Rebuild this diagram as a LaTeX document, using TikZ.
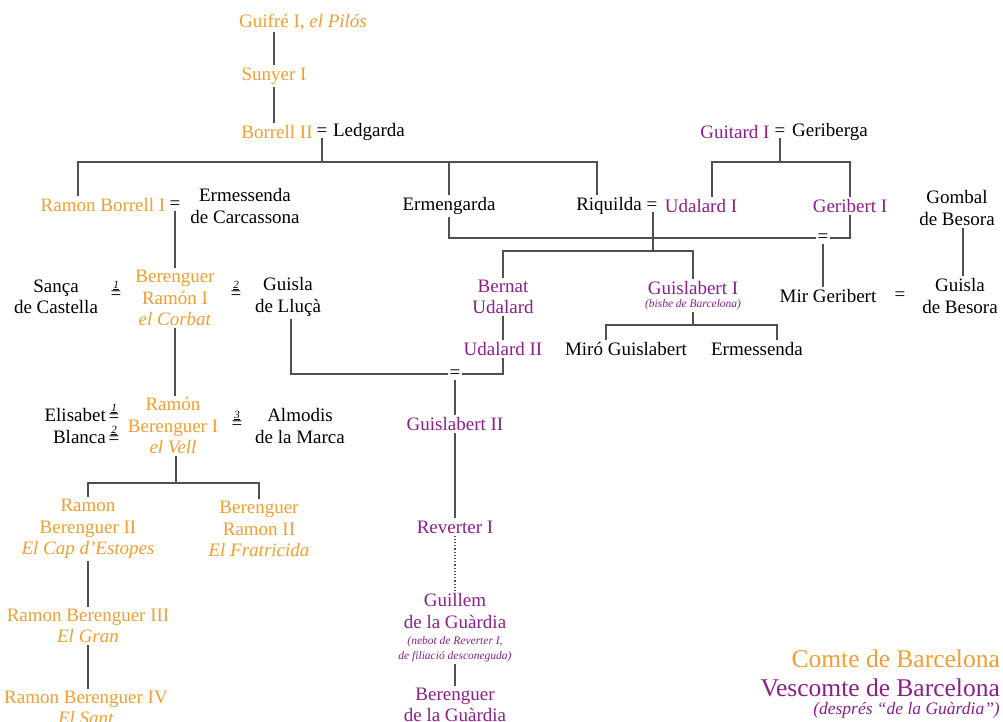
\documentclass[tikz,border=0pt]{standalone}
\usepackage{fontspec}
\setmainfont{Liberation Serif}
\usepackage{xcolor}
\definecolor{comtecol}{RGB}{242,158,48}
\definecolor{vescol}{RGB}{140,30,140}
\definecolor{linecol}{RGB}{80,80,80}
\newcommand{\wed}[1]{{\fontsize{11}{11}\selectfont\itshape\underline{#1}}\\=}

\begin{document}
\begin{tikzpicture}[x=1pt,y=-1pt,
		every node/.style={font=\fontsize{19}{21.5}\selectfont, align=center, inner sep=2pt},
		comte/.style={text=comtecol},
		vesc/.style={text=vescol},
		pers/.style={text=black},
		wedding/.style={text=black, inner sep=1pt},
		numwed/.style={text=black, inner sep=1pt, font=\fontsize{19}{11}\selectfont},
		note/.style={font=\fontsize{11.5}{15}\selectfont\itshape},
		legend/.style={anchor=east, font=\fontsize{25.5}{28}\selectfont},
		tree/.style={draw=linecol, line width=1.2pt}]
	\useasboundingbox (0,0) rectangle (1003,722);

	\node[comte] (guifre) at (303,22) {Guifré I, \textit{el Pilós}};
	\node[comte] (sunyer) at (274,76) {Sunyer I};
	\node[comte] (borrell) at (277,132) {Borrell II};
	\node[wedding] (m0) at (322,132) {=};
	\node[pers] (ledgarda) at (369,132) {Ledgarda};

	\node[comte] (rborrell) at (103,205) {Ramon Borrell I};
	\node[wedding] (m1) at (175,205) {=};
	\node[pers] (ermessendaC) at (245,206) {Ermessenda\\de Carcassona};
	\node[pers] (ermengarda) at (449,206) {Ermengarda};
	\node[pers] (riquilda) at (609,206) {Riquilda};
	\node[wedding] (m3) at (652,206) {=};
	\node[vesc] (udalard1) at (701,206) {Udalard I};

	\node[vesc] (guitard) at (735,132) {Guitard I};
	\node[wedding] (m2) at (780,132) {=};
	\node[pers] (geriberga) at (830,132) {Geriberga};
	\node[vesc] (geribert) at (850,206) {Geribert I};
	\node[pers] (gombal) at (957,208) {Gombal\\de Besora};
	\node[wedding] (m4) at (823,238) {=};

	\node[pers] (sanca) at (56,297) {Sança\\de Castella};
	\node[numwed] (n1) at (116,290) {\wed{1}};
	\node[comte] (bramon1) at (175,298) {Berenguer\\Ramón I\\\textit{el Corbat}};
	\node[numwed] (n2) at (236,290) {\wed{2}};
	\node[pers] (guislaL) at (288,297) {Guisla\\de Lluçà};

	\node[vesc] (bernat) at (503,297) {Bernat\\Udalard};
	\node[vesc] (guislabert1) at (693,288) {Guislabert I};
	\node[vesc, note] (bisbe) at (693,305) {(bisbe de Barcelona)};
	\node[pers] (mirg) at (828,296) {Mir Geribert};
	\node[wedding] (m5) at (900,296) {=};
	\node[pers] (guislaB) at (960,296) {Guisla\\de Besora};

	\node[vesc] (udalard2) at (503,349) {Udalard II};
	\node[pers] (miro) at (626,349) {Miró Guislabert};
	\node[pers] (ermessenda) at (757,349) {Ermessenda};
	\node[wedding] (m6) at (455,374) {=};

	\node[pers, anchor=east] (elisabet) at (108,415) {Elisabet};
	\node[pers, anchor=east] (blanca) at (108,437) {Blanca};
	\node[numwed] (n3) at (114,413) {\wed{1}};
	\node[numwed] (n4) at (114,435) {\wed{2}};
	\node[comte] (rber1) at (173,426) {Ramón\\Berenguer I\\\textit{el Vell}};
	\node[numwed] (n5) at (237,420) {\wed{3}};
	\node[pers] (almodis) at (300,426) {Almodis\\de la Marca};
	\node[vesc] (guislabert2) at (455,424) {Guislabert II};

	\node[comte] (rber2) at (88,529) {Ramon\\Berenguer II\\\textit{El Cap d’Estopes}};
	\node[comte] (bramon2) at (259,529) {Berenguer\\Ramon II\\\textit{El Fratricida}};
	\node[vesc] (reverter) at (455,527) {Reverter I};
	\node[comte] (rber3) at (88,626) {Ramon Berenguer III\\\textit{El Gran}};
	\node[vesc] (guillem) at (455,611) {Guillem\\de la Guàrdia};
	\node[vesc, note] (nebot) at (455,649) {(nebot de Reverter I,\\de filiació desconeguda)};
	\node[comte] (rber4) at (86,708) {Ramon Berenguer IV\\\textit{El Sant}};
	\node[vesc] (berenguerG) at (455,705) {Berenguer\\de la Guàrdia};

	\node[comte, legend] (legcomte) at (1002,659) {Comte de Barcelona};
	\node[vesc, legend] (legvesc) at (1002,688) {Vescomte de Barcelona};
	\node[vesc, legend, font=\fontsize{17.5}{20}\selectfont\itshape] (legnote) at (1002,710) {(després “de la Guàrdia”)};

	\coordinate (j0) at (322,162);
	\coordinate (j1) at (780,162);
	\coordinate (j2) at (653,251);
	\coordinate (j3) at (693,325);
	\coordinate (j4) at (176,483);

	\draw[tree] (sunyer.north |- guifre.south) -- (sunyer.north);
	\draw[tree] (sunyer.south) -- (sunyer.south |- borrell.north);
	\draw[tree] (m0.south) -- (j0);
	\draw[tree] ([xshift=-25pt]rborrell.north) |- (j0) -| ([xshift=-12pt]riquilda.north);
	\draw[tree] (ermengarda.north) -- (ermengarda.north |- j0);
	\draw[tree] (m1.south) -- (m1.south |- bramon1.north);
	\draw[tree] (bramon1.south) -- (bramon1.south |- rber1.north);
	\draw[tree] (rber1.south -| j4) -- (j4);
	\draw[tree] (rber2.north) |- (j4) -| (bramon2.north);
	\draw[tree] (rber2.south) -- (rber2.south |- rber3.north);
	\draw[tree] (rber3.south) -- (rber3.south |- rber4.north);

	\draw[tree] (m2.south) -- (j1);
	\draw[tree] ([xshift=11pt]udalard1.north) |- (j1) -| (geribert.north);
	\draw[tree] (ermengarda.south) |- (m4.west);
	\draw[tree] (geribert.south) |- (m4.east);
	\draw[tree] (m4.south) -- (m4.south |- mirg.north);
	\draw[tree] ([xshift=6pt]gombal.south) -- ([xshift=6pt]gombal.south |- guislaB.north);
	\draw[tree] (m3.south -| j2) -- (j2);
	\draw[tree] (bernat.north) |- (j2) -| (guislabert1.north);
	\draw[tree] (bisbe.south) -- (j3);
	\draw[tree] ([xshift=-20pt]miro.north) |- (j3) -| ([xshift=20pt]ermessenda.north);
	\draw[tree] (bernat.south) -- (udalard2.north);
	\draw[tree] ([xshift=3pt]guislaL.south) |- (m6.west);
	\draw[tree] (udalard2.south) |- (m6.east);
	\draw[tree] (m6.south) -- (guislabert2.north);
	\draw[tree] (guislabert2.south) -- (reverter.north);
	\draw[tree, dotted] (reverter.south) -- (guillem.north);
	\draw[tree] (nebot.south) -- (berenguerG.north);
\end{tikzpicture}
\end{document}
